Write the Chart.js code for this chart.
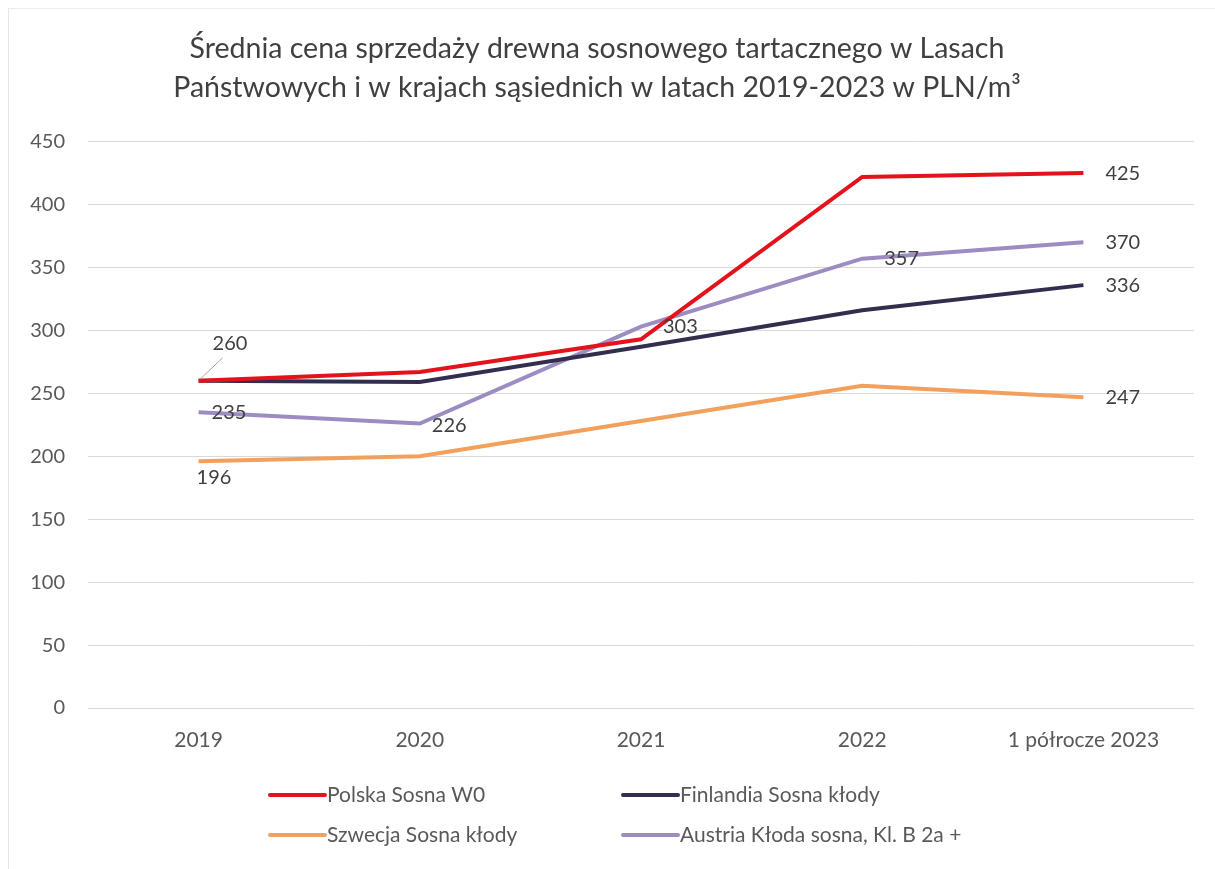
<!DOCTYPE html>
<html lang="pl">
<head>
<meta charset="utf-8">
<title>Średnia cena sprzedaży drewna sosnowego</title>
<script src="https://cdn.jsdelivr.net/npm/chart.js@4.4.0/dist/chart.umd.min.js"></script>
<style>
  html, body { margin: 0; padding: 0; background: #fff; }
  #wrap { position: relative; width: 1215px; height: 869px; }
  #ramka { position: absolute; left: 8px; top: 8px; right: 0; bottom: 0; border-left: 1px solid #e6e6e6; border-top: 1px solid #ececec; pointer-events: none; }
  canvas { display: block; }
</style>
</head>
<body>
<div id="wrap">
  <canvas id="wykres" width="1215" height="869"></canvas>
  <div id="ramka"></div>
</div>
<script>
// dane z wykresu (PLN/m3)
const lata = ["2019", "2020", "2021", "2022", "1 półrocze 2023"];
const polska = [260, 267, 293, 422, 425];
const finlandia = [260, 259, 287, 316, 336];
const szwecja = [196, 200, 228, 256, 247];
const austria = [235, 226, 303, 357, 370];
const osY = [0, 50, 100, 150, 200, 250, 300, 350, 400, 450];

const nazwy = ["Polska Sosna W0", "Finlandia Sosna kłody", "Szwecja Sosna kłody", "Austria Kłoda sosna, Kl. B 2a +"];
const kolory = ["#e3121b", "#332d4f", "#f2a05c", "#9d8cc2"];

// które punkty mają etykiety: [seria, indeks]
const etykiety = [[0, 0], [3, 0], [3, 1], [3, 2], [3, 3], [3, 4], [0, 4], [1, 4], [2, 4], [2, 0]];

const FONT = "Lato, 'Open Sans', 'DejaVu Sans', sans-serif";

// położenie etykiet względem punktu
function przesuniecie(ds, i) {
  if (ds === 0 && i === 0) return { dx: 14, dy: -37, linia: true };
  if (ds === 2 && i === 0) return { dx: -2, dy: 16 };
  if (ds === 3 && i === 0) return { dx: 13, dy: 0 };
  if (ds === 3 && i === 1) return { dx: 12, dy: 2 };
  return { dx: 22, dy: 0 };
}

const etykietyPlugin = {
  id: "etykiety",
  afterDatasetsDraw(chart) {
    const ctx = chart.ctx;
    ctx.save();
    ctx.font = "20px " + FONT;
    ctx.fillStyle = "#404040";
    ctx.textAlign = "left";
    ctx.textBaseline = "middle";
    etykiety.forEach(function (e) {
      const pt = chart.getDatasetMeta(e[0]).data[e[1]];
      const p = przesuniecie(e[0], e[1]);
      const v = chart.data.datasets[e[0]].data[e[1]];
      if (p.linia) {
        ctx.strokeStyle = "#a6a6a6";
        ctx.lineWidth = 1;
        ctx.beginPath();
        ctx.moveTo(pt.x + 2, pt.y - 2);
        ctx.lineTo(pt.x + 24, pt.y - 23);
        ctx.stroke();
      }
      ctx.fillText(String(v), pt.x + p.dx, pt.y + p.dy);
    });
    ctx.restore();
  }
};

const legendaPlugin = {
  id: "legenda",
  afterDraw(chart) {
    const ctx = chart.ctx;
    const kol = [270, 623];
    const wiersz = [795, 835];
    ctx.save();
    ctx.font = "21px " + FONT;
    ctx.fillStyle = "#595959";
    ctx.textBaseline = "middle";
    chart.data.datasets.forEach(function (d, i) {
      const x = kol[i % 2];
      const y = wiersz[Math.floor(i / 2)];
      ctx.strokeStyle = d.borderColor;
      ctx.lineWidth = 4;
      ctx.lineCap = "round";
      ctx.beginPath();
      ctx.moveTo(x, y);
      ctx.lineTo(x + 55, y);
      ctx.stroke();
      ctx.fillText(d.label, x + 57, y);
    });
    ctx.restore();
  }
};

const serie = [polska, finlandia, szwecja, austria];

new Chart(document.getElementById("wykres"), {
  type: "line",
  data: {
    labels: lata,
    datasets: serie.map(function (s, i) {
      return {
        label: nazwy[i],
        data: s,
        borderColor: kolory[i],
        backgroundColor: kolory[i],
        borderWidth: 4,
        pointRadius: 0,
        tension: 0,
        fill: false
      };
    })
  },
  options: {
    responsive: false,
    animation: false,
    layout: { padding: { left: 0, right: 21, top: 0, bottom: 111 } },
    plugins: {
      legend: { display: false },
      tooltip: { enabled: false },
      title: {
        display: true,
        text: ["Średnia cena sprzedaży drewna sosnowego tartacznego w Lasach",
               "Państwowych i w krajach sąsiednich w latach 2019-2023 w PLN/m³"],
        color: "#404040",
        font: { family: FONT, size: 28.5, weight: "normal", lineHeight: 1.38 },
        padding: { top: 29, bottom: 34 }
      }
    },
    scales: {
      x: {
        offset: true,
        grid: { display: false, drawTicks: false },
        border: { display: false },
        ticks: { color: "#595959", font: { family: FONT, size: 21 }, padding: 20, maxRotation: 0 },
        afterFit(s) { s.height = 50; }
      },
      y: {
        min: 0,
        max: 450,
        afterBuildTicks(s) { s.ticks = osY.map(function (v) { return { value: v }; }); },
        grid: { color: "#d9d9d9", lineWidth: 1, drawTicks: false },
        border: { display: false },
        ticks: { color: "#595959", font: { family: FONT, size: 20 }, padding: 23 },
        afterFit(s) { s.width = 88; }
      }
    }
  },
  plugins: [etykietyPlugin, legendaPlugin]
});
</script>
</body>
</html>
